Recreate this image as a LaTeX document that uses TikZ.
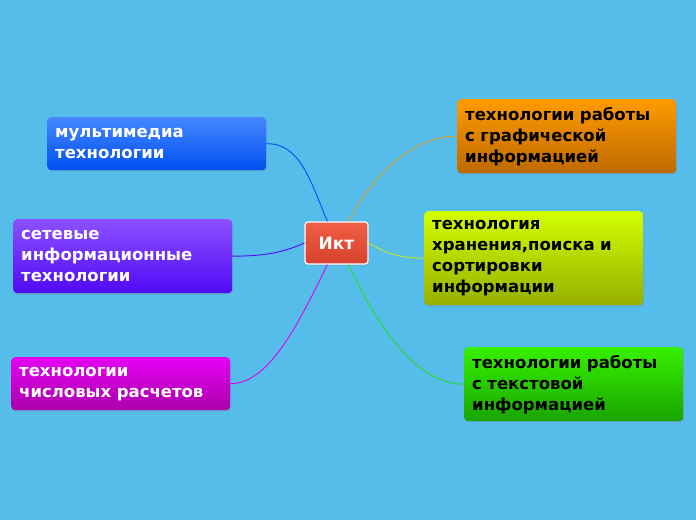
\documentclass[tikz,border=0pt]{standalone}
\usepackage{fontspec}
\setmainfont{DejaVu Sans}
\usetikzlibrary{shadows}
\definecolor{bg}{HTML}{56BDEB}
\tikzset{
 box/.style={rounded corners=4pt, minimum height=#1, inner xsep=8pt, align=left, anchor=north west, font=\bfseries\fontsize{16.5}{21}\selectfont, text width=203pt, drop shadow={opacity=0.25, shadow xshift=1pt, shadow yshift=-1.5pt}},
 box/.default=53pt,
 con/.style={line width=0.9pt}
}
\begin{document}
\begin{tikzpicture}[x=1pt,y=1pt]
\fill[bg] (0,0) rectangle (696,520);
\useasboundingbox (0,0) rectangle (696,520);
% nodes
\node[box=53pt, top color={rgb,255:red,70;green,135;blue,255}, bottom color={rgb,255:red,0;green,80;blue,240}, text=white] (mm) at (47,403) {мультимедиа\\технологии};
\node[box=74pt, top color={rgb,255:red,140;green,80;blue,255}, bottom color={rgb,255:red,80;green,10;blue,245}, text=white] (net) at (13,301) {сетевые\\информационные\\технологии};
\node[box=53pt, top color={rgb,255:red,230;green,0;blue,245}, bottom color={rgb,255:red,170;green,0;blue,170}, text=white] (calc) at (11,163) {технологии\\числовых расчетов};
\node[box=74pt, top color={rgb,255:red,255;green,155;blue,0}, bottom color={rgb,255:red,190;green,105;blue,0}, text=black] (gr) at (457,421) {технологии работы\\с графической\\информацией};
\node[box=94pt, top color={rgb,255:red,210;green,255;blue,0}, bottom color={rgb,255:red,150;green,175;blue,0}, text=black] (st) at (424,309) {технология\\хранения,поиска и\\сортировки\\информации};
\node[box=74pt, top color={rgb,255:red,55;green,240;blue,0}, bottom color={rgb,255:red,25;green,165;blue,0}, text=black] (tx) at (464,173) {технологии работы\\с текстовой\\информацией};
% center
\node[draw=white, line width=1.2pt, rounded corners=3pt, minimum width=63pt, minimum height=42pt, top color={rgb,255:red,240;green,95;blue,70}, bottom color={rgb,255:red,215;green,65;blue,45}, text=white, font=\bfseries\fontsize{17}{20}\selectfont, drop shadow={opacity=0.25, shadow xshift=1pt, shadow yshift=-1.5pt}] (c) at (336.5,277) {Икт};
% connectors
\begin{scope}[on background layer/.style={}]
\end{scope}
\draw[con, draw={rgb,255:red,0;green,80;blue,240}] (c.north west)++(23,0) .. controls (310,340) and (300,377) .. (mm.east);
\draw[con, draw={rgb,255:red,80;green,10;blue,245}] (c.west) .. controls (280,266) and (260,264) .. (net.east);
\draw[con, draw={rgb,255:red,220;green,0;blue,240}] (c.south west)++(23,0) .. controls (300,200) and (270,136) .. (calc.east);
\draw[con, draw={rgb,255:red,220;green,160;blue,30}] (c.north east)++(-20,0) .. controls (370,340) and (410,384) .. (gr.west);
\draw[con, draw={rgb,255:red,190;green,230;blue,40}] (c.east) .. controls (390,264) and (405,262) .. (st.west);
\draw[con, draw={rgb,255:red,40;green,220;blue,40}] (c.south east)++(-20,0) .. controls (370,210) and (410,136) .. (tx.west);
\end{tikzpicture}
\end{document}
